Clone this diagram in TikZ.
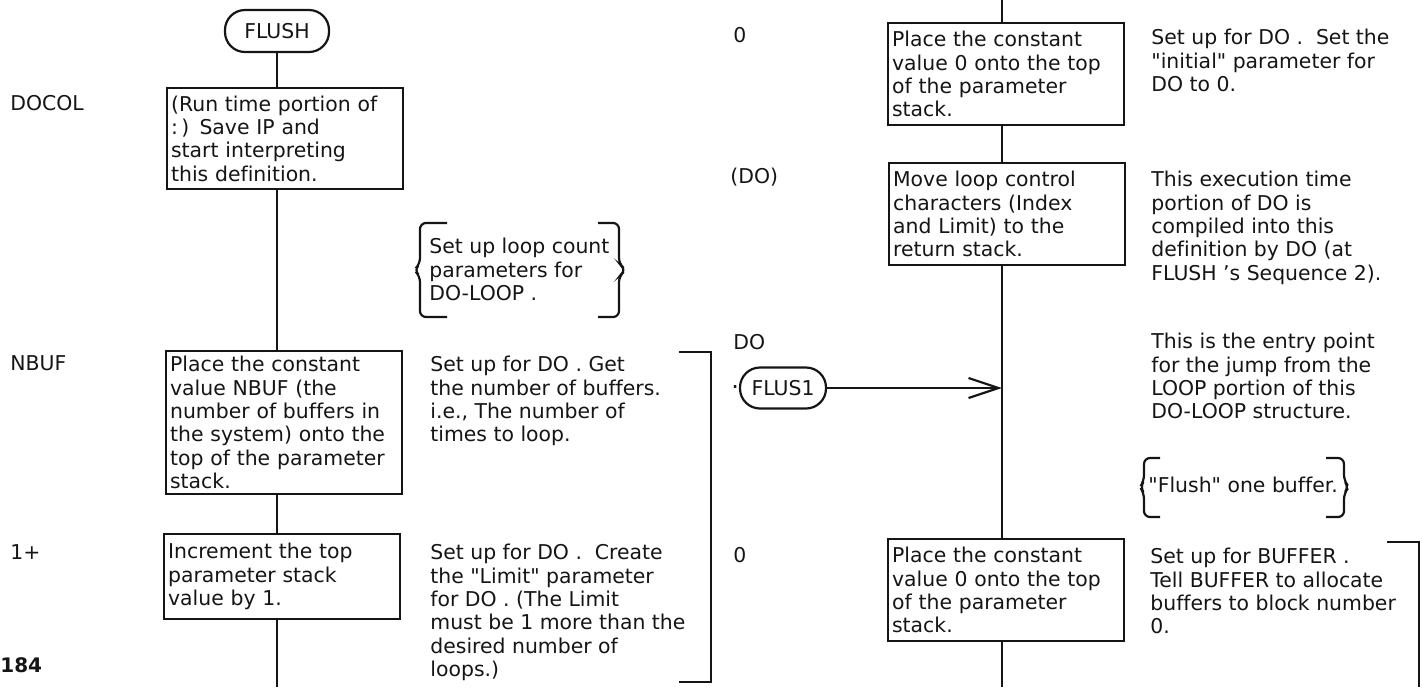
\documentclass[tikz,border=0pt]{standalone}
\usepackage{fontspec}
\setmainfont{DejaVu Sans}[Ligatures={TeX,NoCommon}]
\usetikzlibrary{positioning,arrows.meta}
\definecolor{InkBlack}{HTML}{151515}

\begin{document}
\begin{tikzpicture}[x=0.5pt,y=-0.5pt,
    every node/.style={font=\fontsize{10.2}{11.65}\selectfont, text=InkBlack},
    procbox/.style={draw=InkBlack, line width=1.1pt, anchor=north west, inner xsep=2pt, inner ysep=0pt, text width=114pt, align=left},
    terminal/.style={draw=InkBlack, line width=1.1pt, rounded corners=10pt, minimum height=21pt, inner xsep=3pt},
    wordlabel/.style={anchor=west, inner sep=0pt},
    remark/.style={anchor=north west, inner sep=0pt, align=left},
    flowline/.style={draw=InkBlack, line width=1.1pt}]
        \useasboundingbox (0,0) rectangle (1422,687);

        % left page
        \node[terminal, minimum width=52pt] (flush) at (277,31) {FLUSH};
        \node[procbox, minimum height=50.5pt] (docolbox) at (166,87) {(Run time portion of\\ :\,) Save IP and\\ start interpreting\\ this definition.};
        \node[procbox, minimum height=71.5pt] (nbufbox) at (165,350) {Place the constant\\ value NBUF (the\\ number of buffers in\\ the system) onto the\\ top of the parameter\\ stack.};
        \node[procbox, minimum height=42.5pt] (incbox) at (163,533) {Increment the top\\ parameter stack\\ value by 1.};
        \coordinate (leftend) at (277,687);

        \node[wordlabel] (docollabel) at (10,103) {DOCOL};
        \node[wordlabel] (nbuflabel) at (10,363) {NBUF};
        \node[wordlabel] (inclabel) at (10,552) {1+};
        \node[wordlabel, font=\fontsize{10}{11}\selectfont\bfseries] (pagenum) at (0,665) {184};

        \node[remark] (loopnote) at (429,238) {Set up loop count\\ parameters for\\ DO-LOOP .};
        \node[remark] (nbufnote) at (430,356) {Set up for DO . Get\\ the number of buffers.\\ i.e., The number of\\ times to loop.};
        \node[remark] (incnote) at (430,544) {Set up for DO .\ \ Create\\ the \textquotedbl Limit\textquotedbl\ parameter\\ for DO . (The Limit\\ must be 1 more than the\\ desired number of\\ loops.)};

        \draw[flowline] (flush.south) -- (flush.south |- docolbox.north);
        \draw[flowline] (flush.south |- docolbox.south) -- (flush.south |- nbufbox.north);
        \draw[flowline] (flush.south |- nbufbox.south) -- (flush.south |- incbox.north);
        \draw[flowline] (flush.south |- incbox.south) -- (leftend);

        % braces and brackets, left page
        \draw[flowline, rounded corners=3pt] (447,223) -- (420,223) -- (420,264) -- (414,270) -- (420,276) -- (420,317) -- (447,317);
        \draw[flowline, rounded corners=3pt] (598,223) -- (619,223) -- (619,264) -- (626,270) -- (619,276) -- (619,317) -- (598,317);
        \draw[flowline] (679,352) -- (711,352) -- (711,682) -- (679,682);

        % right page
        \coordinate (righttop) at (1002,0);
        \coordinate (rightend) at (1002,687);
        \node[procbox, minimum height=51pt] (zerobox) at (887,22) {Place the constant\\ value 0 onto the top\\ of the parameter\\ stack.};
        \node[procbox, minimum height=51pt] (movebox) at (888,162) {Move loop control\\ characters (Index\\ and Limit) to the\\ return stack.};
        \node[terminal, minimum width=43pt, minimum height=20.5pt] (flusone) at (783,388) {FLUS1};
        \node[procbox, minimum height=51pt] (zeroboxb) at (887,538) {Place the constant\\ value 0 onto the top\\ of the parameter\\ stack.};

        \node[wordlabel] (zerolabel) at (733,35) {0};
        \node[wordlabel] (parenlabel) at (730,177) {(DO)};
        \node[wordlabel] (dolabel) at (733,342) {DO};
        \node[wordlabel, font=\fontsize{12}{12}\selectfont] (dotlabel) at (731,387) {.};
        \node[wordlabel] (zerolabelb) at (733,555) {0};

        \node[remark] (zeronote) at (1151,29) {Set up for DO .\ \ Set the\\ \textquotedbl initial\textquotedbl\ parameter for\\ DO to 0.};
        \node[remark] (movenote) at (1151,171) {This execution time\\ portion of DO is\\ compiled into this\\ definition by DO (at\\ FLUSH 's Sequence 2).};
        \node[remark] (entrynote) at (1151,333) {This is the entry point\\ for the jump from the\\ LOOP portion of this\\ DO-LOOP structure.};
        \node[remark] (flushnote) at (1148,477) {\textquotedbl Flush\textquotedbl\ one buffer.};
        \node[remark] (buffernote) at (1150,548) {Set up for BUFFER .\\ Tell BUFFER to allocate\\ buffers to block number\\ 0.};

        \draw[flowline] (righttop) -- (righttop |- zerobox.north);
        \draw[flowline] (righttop |- zerobox.south) -- (righttop |- movebox.north);
        \draw[flowline] (righttop |- movebox.south) -- (righttop |- zeroboxb.north);
        \draw[flowline] (righttop |- zeroboxb.south) -- (rightend);
        \draw[flowline, -{Straight Barb[length=15pt,width=10pt]}] (flusone.east) -- (flusone.east -| righttop);

        % braces and brackets, right page
        \draw[flowline, rounded corners=3pt] (1160,458) -- (1144,458) -- (1144,481) -- (1140,487) -- (1144,493) -- (1144,517) -- (1160,517);
        \draw[flowline, rounded corners=3pt] (1326,458) -- (1344,458) -- (1344,481) -- (1349,487) -- (1344,493) -- (1344,517) -- (1326,517);
        \draw[flowline] (1387,542) -- (1419,542) -- (1419,687);
      \end{tikzpicture}
\end{document}
